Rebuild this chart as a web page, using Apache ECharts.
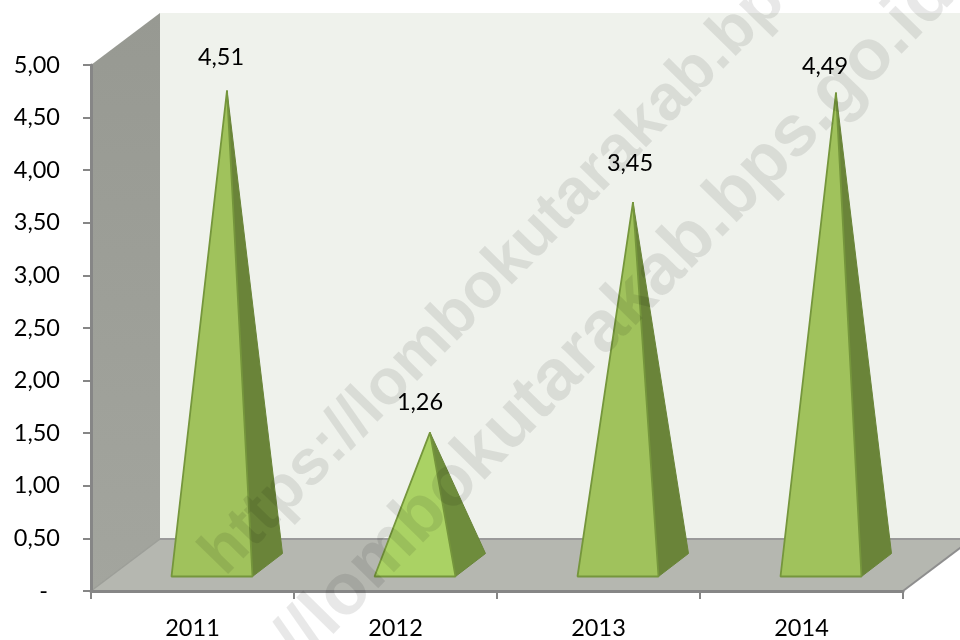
<!DOCTYPE html>
<html>
<head>
<meta charset="utf-8">
<style>html,body{margin:0;padding:0;background:#fff}#c{width:960px;height:640px}</style>
<script src="https://cdn.jsdelivr.net/npm/echarts@6/dist/echarts.min.js"></script>
</head>
<body>
<div id="c"></div>
<script>
const categories = ['2011', '2012', '2013', '2014'];
const values = [4.51, 1.26, 3.45, 4.49];
const yTickMax = 5;
const yTickStep = 0.5;
const watermark = 'https://lombokutarakab.bps.go.id';

const depthX = 69, depthY = -52;      // 3D depth of the chart box
const pyramidHalf = 40.5;
const pyramidDX = 30, pyramidDY = -23; // base depth of each pyramid
const labelOffsets = [[-6, -33], [-10, -30], [-3, -39], [-11, -26]];
const font = 'Lato, "Open Sans", sans-serif';
const fontSize = 23.5;

function fmt(v) { return v.toFixed(2).replace('.', ','); }

const chart = echarts.init(document.getElementById('c'), null, { renderer: 'canvas' });

function wallsRender(params, api) {
  const o = api.coord([0, 0]);
  const bw = api.size([1, 0])[0];
  const left = o[0] - bw / 2;
  const right = left + bw * categories.length;
  const top = api.coord([0, yTickMax])[1];
  const base = o[1];
  const poly = (pts, fill) => ({ type: 'polygon', shape: { points: pts }, style: { fill: fill, stroke: null } });
  return {
    type: 'group',
    children: [
      poly([[left + depthX, top + depthY], [1000, top + depthY], [1000, base + depthY], [left + depthX, base + depthY]], '#eff2ec'),
      poly([[left, base], [left + depthX, base + depthY], [right + depthX, base + depthY], [right, base]], '#b5b7b0'),
      poly([[left, top], [left + depthX, top + depthY], [left + depthX, base + depthY], [left, base]],
        new echarts.graphic.LinearGradient(0, 0, 0, 1, [{ offset: 0, color: '#979992' }, { offset: 1, color: '#a3a59e' }])),
      { type: 'polyline', shape: { points: [[left + depthX, base + depthY], [1000, base + depthY]] }, style: { stroke: '#9a9a9a', lineWidth: 2, fill: null } },
      { type: 'polyline', shape: { points: [[left, base], [left + depthX, base + depthY]] }, style: { stroke: '#9c9e98', lineWidth: 1.5, fill: null } },
      { type: 'polyline', shape: { points: [[right, base], [right + depthX, base + depthY]] }, style: { stroke: '#8e8e8e', lineWidth: 2, fill: null } }
    ]
  };
}

function pyramidRender(params, api) {
  const i = api.value(0), v = api.value(1);
  const b = api.coord([i, 0]);
  const t = api.coord([i, v]);
  const cx = b[0] + depthX / 2, cy = b[1] + depthY / 2;
  const apex = [t[0] + depthX / 2, t[1] + depthY / 2];
  const fl = [cx - pyramidHalf - pyramidDX / 2, cy - pyramidDY / 2];
  const fr = [cx + pyramidHalf - pyramidDX / 2, cy - pyramidDY / 2];
  const br = [fr[0] + pyramidDX, fr[1] + pyramidDY];
  const off = labelOffsets[i];
  const short = v < 2;
  return {
    type: 'group',
    children: [
      { type: 'polygon', shape: { points: [fr, br, apex] }, style: { fill: short ? '#6e8c3c' : '#6a8439', stroke: '#698538', lineWidth: 1, lineJoin: 'bevel' } },
      { type: 'polygon', shape: { points: [fl, fr, apex] }, style: { fill: short ? '#aad264' : '#a0c25c', stroke: '#75963c', lineWidth: 1.8, lineJoin: 'bevel' } },
      { type: 'text', style: { x: apex[0] + off[0], y: apex[1] + off[1], text: fmt(v), font: fontSize + 'px ' + font, fill: '#000', align: 'center', verticalAlign: 'middle' } }
    ]
  };
}

const wmFill = 'rgba(0,0,0,0.09)';
const wmRot = 45.6 * Math.PI / 180;

chart.setOption({
  animation: false,
  backgroundColor: '#fff',
  grid: { left: 91, right: 57, top: 65, bottom: 48, containLabel: false },
  xAxis: {
    type: 'category', data: categories, boundaryGap: true,
    axisLine: { lineStyle: { color: '#868686', width: 3 } },
    axisTick: { show: true, alignWithLabel: false, length: 8, lineStyle: { color: '#868686', width: 2 } },
    axisLabel: { color: '#000', fontFamily: font, fontSize: fontSize, margin: 25 },
    z: 5
  },
  yAxis: {
    type: 'value', min: 0, max: yTickMax, interval: yTickStep,
    axisLine: { show: true, lineStyle: { color: '#868686', width: 3 } },
    axisTick: { show: true, length: 8, lineStyle: { color: '#868686', width: 2 } },
    splitLine: { show: false },
    axisLabel: { color: '#000', fontFamily: font, fontSize: fontSize, margin: 31, padding: [2, 0, 0, 0],
      formatter: v => v === 0 ? '-\u00a0\u00a0' : fmt(v) },
    z: 5
  },
  graphic: [
    { type: 'text', z: 100, rotation: wmRot, x: 212.5, y: 565,
      style: { text: watermark, font: 'bold 64px "Liberation Sans"', fill: wmFill, align: 'left', verticalAlign: 'middle' } },
    { type: 'text', z: 100, rotation: wmRot, x: 148, y: 795,
      style: { text: watermark, font: 'bold 72px "Liberation Sans"', fill: wmFill, align: 'left', verticalAlign: 'middle' } }
  ],
  series: [
    { type: 'custom', name: 'walls', z: 1, silent: true, clip: false, renderItem: wallsRender, data: [[0, 0]], encode: { x: 0, y: 1 } },
    { type: 'custom', name: 'Nilai', z: 3, clip: false, renderItem: pyramidRender,
      data: values.map((v, i) => [i, v]), encode: { x: 0, y: 1 } }
  ]
});
</script>
</body>
</html>
